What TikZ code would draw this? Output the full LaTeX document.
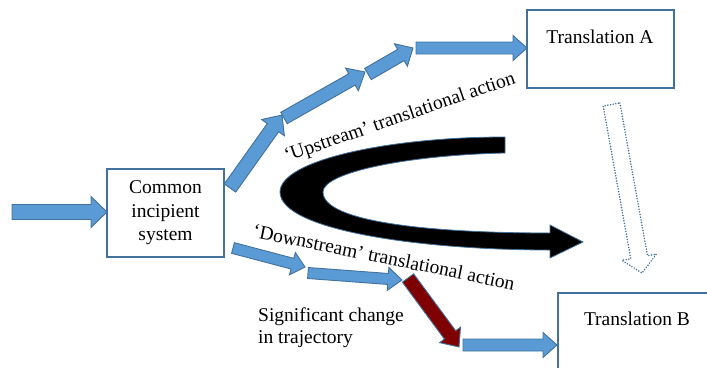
\documentclass[tikz,border=0pt]{standalone}
\usepackage{fontspec}
\setmainfont{Liberation Serif}
\usetikzlibrary{calc}

\definecolor{shapeblue}{HTML}{5B9BD5}
\definecolor{edgeblue}{HTML}{41719C}
\definecolor{darkmaroon}{HTML}{7F0000}

% block arrow between two named points:
% #1 style, #2 start, #3 tip, #4 half shaft width, #5 half head width, #6 head length
\newcommand\blockarrow[6][]{%
  \pgfpointdiff{\pgfpointanchor{#2}{center}}{\pgfpointanchor{#3}{center}}%
  \pgfgetlastxy\bax\bay
  \pgfmathsetmacro\baang{atan2(\bay,\bax)}%
  \pgfmathsetmacro\balen{veclen(\bax,\bay)}%
  \pgfmathsetmacro\babase{\balen-#6}%
  \begin{scope}[shift={(#2)}, rotate=\baang]
    \path[#1] (0pt,#4pt) -- (\babase pt,#4pt) -- (\babase pt,#5pt) -- (\balen pt,0pt)
      -- (\babase pt,-#5pt) -- (\babase pt,-#4pt) -- (0pt,-#4pt) -- cycle;
  \end{scope}}

\tikzset{
  box/.style={draw=edgeblue, line width=1.3pt, fill=white, inner sep=0pt},
  lbl/.style={font=\fontsize{19.5}{23.5}\selectfont, inner sep=0pt},
  bluearrow/.style={fill=shapeblue, draw=edgeblue, line width=0.9pt, line join=miter},
  redarrow/.style={fill=darkmaroon, draw=edgeblue, line width=0.9pt},
  hollowarrow/.style={draw=edgeblue, line width=1.7pt, line cap=round, dash pattern=on 0pt off 2.7pt},
}

\begin{document}
\begin{tikzpicture}[x=1pt, y=-1pt]
\useasboundingbox (0,0) rectangle (707,367);

% boxes
\node[box, minimum width=117pt, minimum height=88pt, align=center,
      font=\fontsize{19.5}{23.5}\selectfont] (common) at (165.5,213) {Common\\incipient\\system};
\node[box, minimum width=147pt, minimum height=78pt] (ta) at (600.5,49) {};
\node[lbl, anchor=base] (tatext) at (600,43) {Translation A};
\node[box, minimum width=154pt, minimum height=80pt] (tb) at (635,333) {};
\node[lbl, anchor=base] (tbtext) at (637,325) {Translation B};

% arrow end points
\coordinate (in0) at (12,212);   \coordinate (in1) at (107,212);
\coordinate (u1a) at (230,188);  \coordinate (u1b) at (282,115);
\coordinate (u2a) at (284,118);  \coordinate (u2b) at (365,72);
\coordinate (u3a) at (368,74);   \coordinate (u3b) at (413,48);
\coordinate (u4a) at (416,48);   \coordinate (u4b) at (527,48);
\coordinate (d1a) at (233,248);  \coordinate (d1b) at (305,267);
\coordinate (d2a) at (308,273);  \coordinate (d2b) at (402,280);
\coordinate (ra)  at (408,278);  \coordinate (rb)  at (459,347);
\coordinate (b1a) at (463,345);  \coordinate (b1b) at (557,345);
\coordinate (da)  at (611.5,104.5); \coordinate (db) at (642,273);

% inflow
\blockarrow[bluearrow]{in0}{in1}{7.5}{15.5}{16}
% upstream chain
\blockarrow[bluearrow]{u1a}{u1b}{7}{14}{15.5}
\blockarrow[bluearrow]{u2a}{u2b}{6.5}{13}{15}
\blockarrow[bluearrow]{u3a}{u3b}{6.5}{13}{14}
\blockarrow[bluearrow]{u4a}{u4b}{6}{12.5}{14}
% downstream chain
\blockarrow[bluearrow]{d1a}{d1b}{5.5}{11.5}{13}
\blockarrow[bluearrow]{d2a}{d2b}{5.5}{11.5}{14}
\blockarrow[redarrow]{ra}{rb}{7}{13}{15}
\blockarrow[bluearrow]{b1a}{b1b}{6}{12.5}{14}
% dotted hollow arrow
\blockarrow[hollowarrow]{da}{db}{8.5}{17.5}{16}

% curved black arrow
\path[fill=black, draw=edgeblue, line width=0.8pt, line join=miter]
  (505,137) .. controls (390,137) and (280,160) .. (280,192)
  .. controls (280,230) and (420,250) .. (550,250)
  -- (550,258) -- (583,242) -- (550,225) -- (550,233)
  .. controls (430,233) and (323,222) .. (323,192)
  .. controls (323,172) and (410,155) .. (505,153) -- cycle;

% labels
\node[lbl, rotate=19] (up) at (400,118) {‘Upstream’ translational action};
\node[lbl, rotate=-11.5] (down) at (384,257) {‘Downstream’ translational action};
\node[lbl, anchor=base west, align=left, font=\fontsize{19.5}{22}\selectfont] (sig) at (258,343) {Significant change\\in trajectory};
\end{tikzpicture}
\end{document}
